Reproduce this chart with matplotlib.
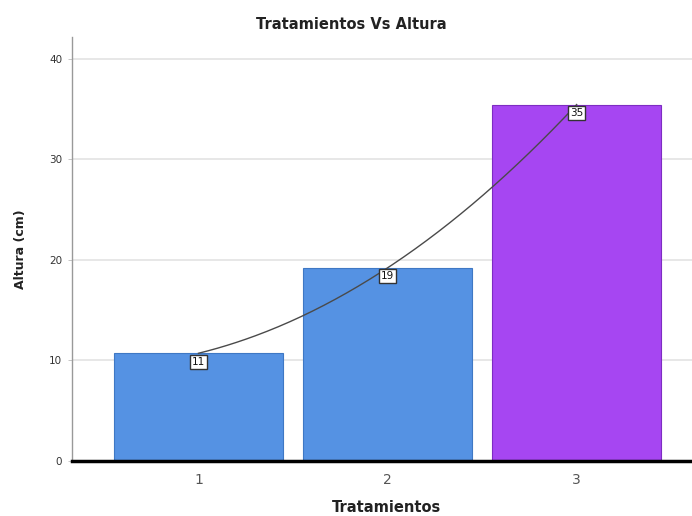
import numpy as np
import matplotlib
matplotlib.use("Agg")
import matplotlib.pyplot as plt

# mean height per treatment
tratamientos = ["1", "2", "3"]
altura = [10.7, 19.2, 35.45]
colores = ["#5592e3", "#5592e3", "#a646f2"]
bordes = ["#3f78c4", "#3f78c4", "#7e2cc2"]

plt.rcParams["font.family"] = ["DejaVu Sans"]

fig = plt.figure(figsize=(6.92, 5.16), dpi=100)
ax = fig.add_axes([0.104, 0.107, 0.896, 0.821])

x = np.arange(1, len(tratamientos) + 1)
ax.bar(x, altura, width=0.894, color=colores, edgecolor=bordes,
       linewidth=0.8, zorder=2)

# smooth interpolation line through the bar tops
coef = np.polyfit(x, altura, 2)
xs = np.linspace(x[0], x[-1], 200)
ax.plot(xs, np.polyval(coef, xs), color="#4a4a4a", linewidth=1.0, zorder=3)

for xi, yi in zip(x, altura):
    ax.annotate("%d" % round(yi), (xi, yi), xytext=(0, -6),
                textcoords="offset points", ha="center", va="center",
                fontsize=7.5, color="#111111", zorder=4,
                bbox=dict(boxstyle="square,pad=0.2", fc="white",
                          ec="#333333", lw=1.0))

ax.set_xlim(0.331, 3.61)
ax.set_ylim(0, 42.16)
ax.set_yticks([0, 10, 20, 30, 40])
ax.set_xticks(x)
ax.set_xticklabels(tratamientos)
ax.yaxis.grid(True, color="#e3e3e3", linewidth=1.2, zorder=0)
ax.set_axisbelow(True)

for side in ["top", "right"]:
    ax.spines[side].set_visible(False)
ax.spines["left"].set_color("#999999")
ax.spines["left"].set_linewidth(1.0)
ax.spines["bottom"].set_color("black")
ax.spines["bottom"].set_linewidth(2.5)
ax.spines["bottom"].set_zorder(5)

ax.tick_params(axis="y", length=3, width=0.6, color="#bbbbbb",
               labelsize=7.5, labelcolor="#333333", pad=4)
ax.tick_params(axis="x", length=0, labelsize=10, labelcolor="#555555", pad=9)

fig.text(0.508, 0.952, "Tratamientos Vs Altura", ha="center", va="center",
         fontsize=10.5, fontweight="bold", color="#222222")
fig.text(0.559, 0.016, "Tratamientos", ha="center", va="center",
         fontsize=10.5, fontweight="bold", color="#222222")
fig.text(0.029, 0.517, "Altura (cm)", ha="center", va="center",
         rotation=90, fontsize=9, fontweight="bold", color="#222222")

fig.savefig("out.png", dpi=100)
